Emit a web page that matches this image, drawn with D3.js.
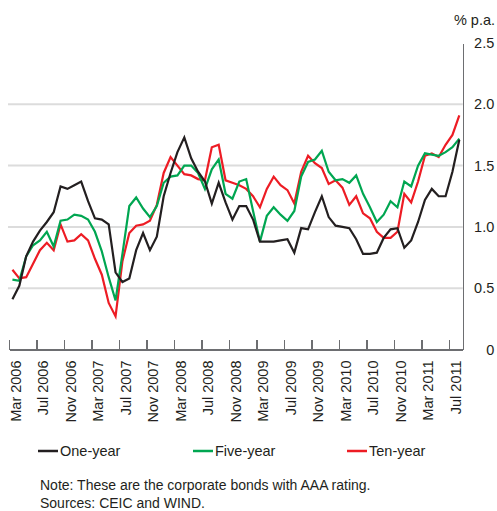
<!DOCTYPE html>
<meta charset="utf-8">
<head>
    <script src="https://d3js.org/d3.v7.min.js"></script>
    <style>
        body { margin: 0; background: #fff; }
        svg text { font-family: "Liberation Sans", Arial, sans-serif; fill: #231f20; }
        .axis path, .axis line { stroke: #6d6e71; stroke-width: 1.5; shape-rendering: crispEdges; }
        .grid line { stroke: #dcdcdc; stroke-width: 2; }
    </style>
</head>
<body>
<div id="chart"></div>
<script>
    // Monthly yields, Mar 2006 - Aug 2011 (% p.a.)
    var oneYear = [0.41, 0.52, 0.76, 0.88, 0.97, 1.04, 1.12, 1.33, 1.31, 1.34, 1.37, 1.21,
        1.07, 1.06, 1.02, 0.63, 0.55, 0.58, 0.81, 0.95, 0.81, 0.92, 1.25, 1.44,
        1.61, 1.73, 1.56, 1.45, 1.37, 1.19, 1.36, 1.20, 1.06, 1.17, 1.17, 1.06,
        0.88, 0.88, 0.88, 0.89, 0.90, 0.79, 0.99, 0.98, 1.12, 1.25, 1.08, 1.01,
        1.00, 0.99, 0.90, 0.78, 0.78, 0.79, 0.91, 0.98, 0.99, 0.83, 0.89, 1.04,
        1.22, 1.31, 1.25, 1.25, 1.45, 1.71];
    var fiveYear = [0.57, 0.56, 0.76, 0.85, 0.89, 0.96, 0.84, 1.05, 1.06, 1.10, 1.09, 1.06,
        0.96, 0.80, 0.59, 0.40, 0.78, 1.17, 1.24, 1.15, 1.08, 1.17, 1.36, 1.41,
        1.42, 1.50, 1.50, 1.44, 1.31, 1.47, 1.55, 1.27, 1.23, 1.37, 1.39, 1.13,
        0.88, 1.09, 1.16, 1.10, 1.05, 1.13, 1.41, 1.53, 1.55, 1.62, 1.45, 1.38,
        1.39, 1.36, 1.42, 1.27, 1.16, 1.04, 1.10, 1.21, 1.16, 1.37, 1.33, 1.50,
        1.60, 1.59, 1.58, 1.61, 1.65, 1.72];
    var tenYear = [0.65, 0.58, 0.59, 0.70, 0.81, 0.87, 0.81, 1.02, 0.88, 0.89, 0.94, 0.89,
        0.74, 0.61, 0.38, 0.27, 0.72, 0.95, 1.01, 1.02, 1.05, 1.18, 1.44, 1.57,
        1.50, 1.43, 1.42, 1.39, 1.38, 1.65, 1.67, 1.38, 1.36, 1.34, 1.31, 1.25,
        1.16, 1.31, 1.41, 1.34, 1.30, 1.19, 1.45, 1.58, 1.52, 1.48, 1.35, 1.38,
        1.32, 1.18, 1.25, 1.11, 1.07, 0.96, 0.91, 0.91, 0.96, 1.27, 1.20, 1.37,
        1.58, 1.60, 1.57, 1.67, 1.75, 1.91];
    var yTicks = [0, 0.5, 1.0, 1.5, 2.0, 2.5];
    var seriesNames = ["One-year", "Five-year", "Ten-year"];
    var seriesColors = ["#231f20", "#00a651", "#ed1c24"];

    var months = d3.timeMonth.range(new Date(2006, 2, 1), new Date(2011, 8, 1));
    var tickMonths = months.filter(function (d, i) { return i % 4 === 0; });
    var fmtMonth = d3.timeFormat("%b %Y");

    var width = 497, height = 511;

    var svg = d3.select("#chart").append("svg")
        .attr("width", width)
        .attr("height", height);

    var x = d3.scaleBand().domain(months).range([9, 462.75]);
    var y = d3.scaleLinear().domain([0, 2.5]).range([349.5, 43]);

    // gridlines
    svg.append("g").attr("class", "grid")
        .selectAll("line")
        .data(yTicks.filter(function (d) { return d > 0 && d < 2.5; }))
        .enter().append("line")
        .attr("x1", 8)
        .attr("x2", 462.75)
        .attr("y1", function (d) { return y(d); })
        .attr("y2", function (d) { return y(d); });

    // x axis, ticks at the start of each month band, pointing up
    var xTime = d3.scaleTime()
        .domain([months[0], d3.timeMonth.offset(months[months.length - 1], 1)])
        .range(x.range());

    var xAxis = svg.append("g")
        .attr("class", "axis")
        .attr("transform", "translate(0," + y(0) + ")")
        .call(d3.axisBottom(xTime)
            .tickValues(tickMonths.map(function (d) { return xTime.invert(x(d)); }))
            .tickSizeInner(-10)
            .tickSizeOuter(0)
            .tickFormat(function (d) { return fmtMonth(d3.timeMonth.round(d)); }));

    xAxis.selectAll("text")
        .attr("transform", "rotate(-90)")
        .style("text-anchor", "end")
        .attr("x", -11)
        .attr("y", 11)
        .attr("dy", null)
        .style("font-size", "14.5px")
        .attr("fill", "#231f20");

    // y axis on the right
    var yAxis = svg.append("g")
        .attr("class", "axis")
        .attr("transform", "translate(462.75,0)")
        .call(d3.axisRight(y)
            .tickValues(yTicks)
            .tickSize(0)
            .tickFormat(function (d) { return d === 0 ? "0" : d3.format(".1f")(d); }));

    yAxis.selectAll("text")
        .style("text-anchor", "end")
        .attr("x", 31.5)
        .style("font-size", "14.5px")
        .attr("fill", "#231f20");

    svg.append("text")
        .attr("x", 495)
        .attr("y", 25)
        .style("text-anchor", "end")
        .style("font-size", "14.5px")
        .text("% p.a.");

    // lines
    var line = d3.line()
        .x(function (d, i) { return x(months[i]) + x.bandwidth() / 2; })
        .y(function (d) { return y(d); });

    var allSeries = [oneYear, fiveYear, tenYear];

    svg.append("g").selectAll("path")
        .data([2, 1, 0])
        .enter().append("path")
        .attr("d", function (k) { return line(allSeries[k]); })
        .attr("fill", "none")
        .attr("stroke", function (k) { return seriesColors[k]; })
        .attr("stroke-width", 2.2)
        .attr("stroke-linejoin", "miter");

    // legend
    var legendX = [38, 193, 347];
    var legend = svg.append("g").selectAll("g")
        .data(seriesNames)
        .enter().append("g")
        .attr("transform", function (d, i) { return "translate(" + legendX[i] + ",451)"; });

    legend.append("line")
        .attr("x1", 0).attr("x2", 20)
        .attr("stroke", function (d, i) { return seriesColors[i]; })
        .attr("stroke-width", 2.5);

    legend.append("text")
        .attr("x", 22)
        .attr("y", 5)
        .style("font-size", "14.5px")
        .text(function (d) { return d; });

    svg.append("text")
        .attr("x", 40)
        .attr("y", 490)
        .style("font-size", "14px")
        .text("Note: These are the corporate bonds with AAA rating.");

    svg.append("text")
        .attr("x", 40)
        .attr("y", 508)
        .style("font-size", "14px")
        .text("Sources: CEIC and WIND.");
</script>
</body>
